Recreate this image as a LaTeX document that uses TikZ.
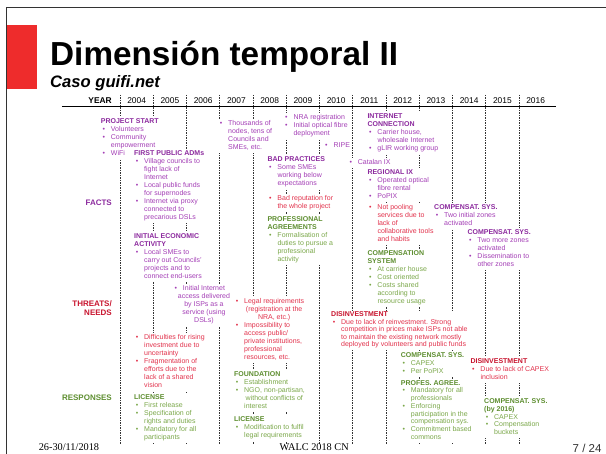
\documentclass[tikz,border=0pt]{standalone}
\usepackage{fontspec}
\setmainfont{Liberation Sans}
\newfontfamily\serifpie{Liberation Serif}
\usepackage{xcolor}
\usepackage{tikz}
\definecolor{cmora}{HTML}{A43FB6}
\definecolor{cmorad}{HTML}{8C2A9E}
\definecolor{croja}{HTML}{E2324C}
\definecolor{crojad}{HTML}{C8142E}
\definecolor{cverde}{HTML}{7BA84A}
\definecolor{cverded}{HTML}{5E8E30}
\definecolor{crojbar}{HTML}{EE2C2C}
\definecolor{cgris}{HTML}{333333}
\colorlet{ccab}{black}
\newcommand\bul[1][10pt]{\makebox[#1][l]{\hspace{1.6pt}\textbullet}}
\newcommand\ind{\hspace*{10pt}}
\newcommand\cab[1]{{\color{ccab}\bfseries #1}}
\newcommand\blq[1]{\begin{tabular}[t]{@{}l@{}}#1\end{tabular}}
\newcommand\cen[1]{\begin{tabular}[t]{@{}c@{}}#1\end{tabular}}
\tikzset{
  bloque/.style={anchor=base west, inner sep=1pt, fill=white, font=\fontsize{7}{8}\selectfont},
  bmor/.style={bloque, text=cmora, execute at begin node={\colorlet{ccab}{cmorad}}},
  broj/.style={bloque, text=croja, execute at begin node={\colorlet{ccab}{crojad}}},
  bver/.style={bloque, text=cverde, execute at begin node={\colorlet{ccab}{cverded}}},
  fila/.style={anchor=base east, inner sep=0pt, font=\fontsize{8}{9}\selectfont\bfseries},
  anio/.style={anchor=base, inner sep=0pt, font=\fontsize{8.4}{10}\selectfont},
  divisor/.style={draw=cgris, line width=1pt, dash pattern=on 1.2pt off 1.3pt},
  titulo/.style={anchor=base west, inner sep=0pt, font=\fontsize{33.3}{40}\selectfont\bfseries},
  subtit/.style={anchor=base west, inner sep=0pt, font=\fontsize{16.6}{20}\selectfont\bfseries\itshape},
  pie/.style={inner sep=0pt, font=\serifpie\fontsize{10.3}{12}\selectfont},
}
\begin{document}
\begin{tikzpicture}[x=1pt,y=-1pt]
  \useasboundingbox (0,0) rectangle (606,454);
  \draw[cgris, line width=0.8pt] (6,454) -- (6,7) -- (606,7);
  \fill[crojbar] (7,25) rectangle (36.7,89.3);
  \node[titulo] (tit) at (50,65.7) {Dimensión temporal II};
  \node[subtit] (sub) at (50,87.3) {Caso guifi.net};

  \foreach \i in {0,...,12}
    \draw[divisor] (120+33.25*\i,95) -- (120+33.25*\i,444);
  \draw[line width=1pt] (61.8,107) -- (556,107);
  \node[anio, anchor=base east, font=\fontsize{8.4}{10}\selectfont\bfseries] (year) at (112,104) {YEAR};
  \foreach \a [count=\k from 0] in {2004,...,2016}
    \node[anio] (a\a) at (136.6+33.25*\k,104) {\a};

  \node[fila, text=cmorad] (facts) at (112,205.9) {FACTS};
  \node[fila, text=crojad] (threats) at (112,306.9) {\begin{tabular}[t]{@{}r@{}}THREATS/\\NEEDS\end{tabular}};
  \node[fila, text=cverded] (resp) at (112,400.2) {RESPONSES};

  \node[bmor] (pstart) at (99.7,123.2) {\blq{\cab{PROJECT START}\\ \bul Volunteers\\ \bul Community\\ \ind empowerment\\ \bul WiFi}};
  \node[bmor] (adms) at (133,155.8) {\blq{\cab{FIRST PUBLIC ADMs}\\ \bul Village councils to\\ \ind fight lack of\\ \ind Internet\\ \bul Local public funds\\ \ind for supernodes\\ \bul Internet via proxy\\ \ind connected to\\ \ind precarious DSLs}};
  \node[bmor] (miles) at (217,125.2) {\blq{\bul Thousands of\\ \ind nodes, tens of\\ \ind Councils and\\ \ind SMEs, etc.}};
  \node[bmor] (nra) at (282.4,119.8) {\blq{\bul NRA registration\\ \bul Initial optical fibre\\ \ind deployment}};
  \node[bmor] (ripe) at (322.4,147.5) {\blq{\bul RIPE}};
  \node[bmor] (inet) at (366.3,118.5) {\blq{\cab{INTERNET}\\ \cab{CONNECTION}\\ \bul Carrier house,\\ \ind wholesale Internet\\ \bul gLIR working group}};
  \node[bmor] (malas) at (266.3,161.8) {\blq{\cab{BAD PRACTICES}\\ \bul Some SMEs\\ \ind working below\\ \ind expectations}};
  \node[broj] (fama) at (266.3,200.5) {\blq{\bul Bad reputation for\\ \ind the whole project}};
  \node[bver] (profag) at (266.3,221.8) {\blq{\cab{PROFESSIONAL}\\ \cab{AGREEMENTS}\\ \bul Formalisation of\\ \ind duties to pursue a\\ \ind professional\\ \ind activity}};
  \node[bmor] (catix) at (346.7,164.2) {\blq{\bul Catalan IX}};
  \node[bmor] (regix) at (366.3,174.2) {\blq{\cab{REGIONAL IX}\\ \bul Operated optical\\ \ind fibre rental\\ \bul PoPIX}};
  \node[broj] (pool) at (366.3,209.2) {\blq{\bul Not pooling\\ \ind services due to\\ \ind lack of\\ \ind collaborative tools\\ \ind and habits}};
  \node[bver] (compsys) at (366.3,256) {\blq{\cab{COMPENSATION}\\ \cab{SYSTEM}\\ \bul At carrier house\\ \bul Cost oriented\\ \bul Costs shared\\ \ind according to\\ \ind resource usage}};
  \node[bmor] (comp1) at (433,209.2) {\blq{\cab{COMPENSAT. SYS.}\\ \bul Two initial zones\\ \ind activated}};
  \node[bmor] (comp2) at (466.3,234.2) {\blq{\cab{COMPENSAT. SYS.}\\ \bul Two more zones\\ \ind activated\\ \bul Dissemination to\\ \ind other zones}};
  \node[bmor] (econ) at (133,238.2) {\blq{\cab{INITIAL ECONOMIC}\\ \cab{ACTIVITY}\\ \bul Local SMEs to\\ \ind carry out Councils'\\ \ind projects and to\\ \ind connect end-users}};
  \node[bmor] (isp) at (171.7,290.8) {\blq{\bul[5pt]\cen{Initial Internet\\access delivered\\by ISPs as a\\service (using\\DSLs)}}};

  \node[broj] (legal) at (233,303.8) {\blq{\bul\cen{Legal requirements\\(registration at the\\NRA, etc.)}\\ \bul Impossibility to\\ \ind access public/\\ \ind private institutions,\\ \ind professional\\ \ind resources, etc.}};
  \node[broj] (dific) at (133,339.2) {\blq{\bul Difficulties for rising\\ \ind investment due to\\ \ind uncertainty\\ \bul Fragmentation of\\ \ind efforts due to the\\ \ind lack of a shared\\ \ind vision}};
  \node[broj] (desinv1) at (330,316.8) {\def\arraystretch{0.94}\blq{\cab{DISINVESTMENT}\\ \bul Due to lack of reinvestment. Strong\\ \ind competition in prices make ISPs not able\\ \ind to maintain the existing network mostly\\ \ind deployed by volunteers and public funds}};
  \node[broj] (desinv2) at (469.3,363.8) {\blq{\cab{DISINVESTMENT}\\ \bul Due to lack of CAPEX\\ \ind inclusion}};

  \node[bver] (lic1) at (133,399.8) {\blq{\cab{LICENSE}\\ \bul First release\\ \bul Specification of\\ \ind rights and duties\\ \bul Mandatory for all\\ \ind participants}};
  \node[bver] (fund) at (233,376.8) {\blq{\cab{FOUNDATION}\\ \bul Establishment\\ \bul NGO, non-partisan,\\ \ind\hspace{1.5pt}without conflicts of\\ \ind interest}};
  \node[bver] (lic2) at (233,421.8) {\blq{\cab{LICENSE}\\ \bul Modification to fulfil\\ \ind legal requirements}};
  \node[bver] (comp3) at (399.7,357.8) {\blq{\cab{COMPENSAT. SYS.}\\ \bul CAPEX\\ \bul Per PoPIX}};
  \node[bver] (profes) at (399.7,385.2) {\def\arraystretch{0.97}\blq{\cab{PROFES. AGREE.}\\ \bul Mandatory for all\\ \ind professionals\\ \bul Enforcing\\ \ind participation in the\\ \ind compensation sys.\\ \bul Commitment based\\ \ind commons}};
  \node[bver] (comp4) at (483,403.5) {\def\arraystretch{0.97}\blq{\cab{COMPENSAT. SYS.}\\ \cab{(by 2016)}\\ \bul CAPEX\\ \bul Compensation\\ \ind buckets}};

  \node[pie, anchor=base east] (fecha) at (99.3,450.1) {26-30/11/2018};
  \node[pie, anchor=base west] (walc) at (279.3,450.1) {WALC 2018 CN};
  \node[anchor=base east, inner sep=0pt, font=\fontsize{11.5}{13}\selectfont, text=black!80] (pag) at (601.7,452.5) {7 / 24};
\end{tikzpicture}
\end{document}
